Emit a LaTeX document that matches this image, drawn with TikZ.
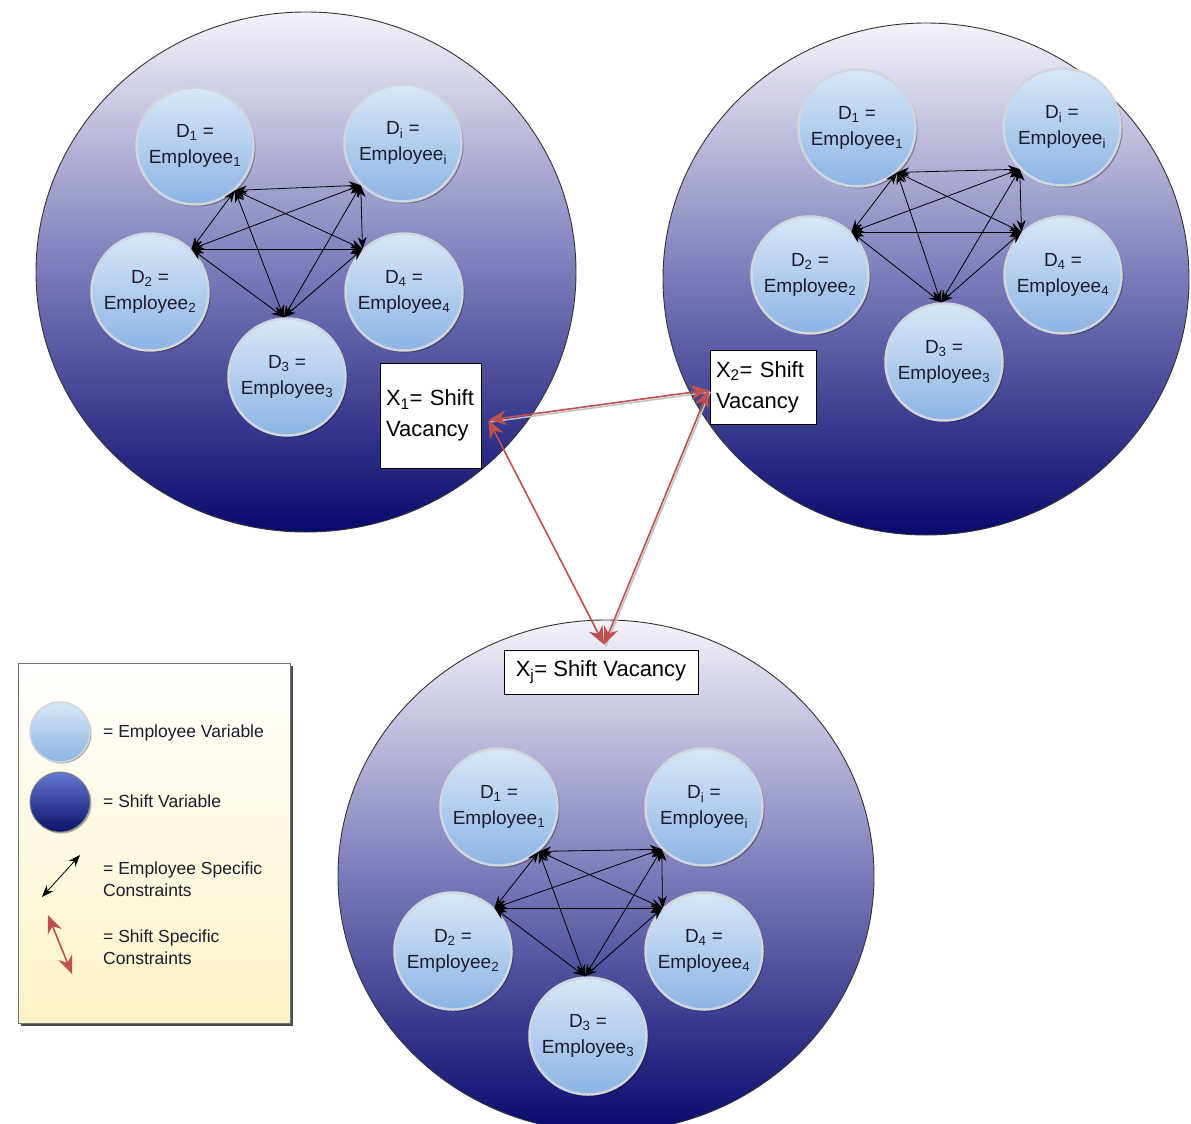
\documentclass[tikz,border=0pt]{standalone}
\usepackage{fontspec}
\setmainfont{Liberation Sans}
\usetikzlibrary{shapes.geometric,arrows.meta,shadows}
\definecolor{bigtop}{RGB}{244,243,249}
\definecolor{bigmid}{RGB}{122,122,186}
\definecolor{bigbot}{RGB}{8,10,108}
\definecolor{emptop}{RGB}{216,231,249}
\definecolor{empbot}{RGB}{140,180,228}
\definecolor{emprim}{RGB}{208,213,222}
\definecolor{txtc}{RGB}{28,28,45}
\definecolor{shiftred}{RGB}{192,80,77}
\definecolor{legtop}{RGB}{255,255,254}
\definecolor{legbot}{RGB}{253,242,198}
\definecolor{darktop}{RGB}{100,120,208}
\definecolor{darkbot}{RGB}{10,18,105}
\begin{document}
\begin{tikzpicture}[x=1pt,y=-1pt,
  bigvar/.style={ellipse, draw=black!80, line width=0.9pt, inner sep=0pt,
    top color=bigtop, bottom color=bigbot, middle color=bigmid},
  empvar/.style={circle, draw=emprim, line width=2.5pt, inner sep=0pt,
    minimum size=117pt, top color=emptop, bottom color=empbot,
    text=txtc, align=center, font=\fontsize{19}{26}\selectfont,
    drop shadow={shadow xshift=2pt, shadow yshift=-2pt, opacity=0.3, fill=black}},
  emparrow/.style={{Stealth[length=12pt,width=9pt]}-{Stealth[length=12pt,width=9pt]},
    line width=0.8pt, black},
  shiftbox/.style={rectangle, draw=black, line width=0.9pt, fill=white,
    font=\fontsize{22}{31}\selectfont, align=left, inner xsep=6pt, inner ysep=0pt},
  shiftarrow/.style={{Stealth[length=18pt,width=15pt]}-{Stealth[length=18pt,width=15pt]},
    line width=1.6pt, shiftred},
  shiftshadow/.style={line width=1.5pt, black!25,
    transform canvas={xshift=1.5pt,yshift=-2pt}},
  legendbox/.style={rectangle, draw=black!55, line width=1pt,
    top color=legtop, bottom color=legbot, inner sep=0pt,
    drop shadow={shadow xshift=3pt, shadow yshift=-3pt, opacity=0.7, fill=black}},
  legtext/.style={anchor=west, inner sep=0pt, text=txtc, align=left,
    font=\fontsize{17.5}{22.5}\selectfont},
  legemp/.style={circle, draw=emprim, line width=1.5pt, inner sep=0pt,
    minimum size=60pt, top color=emptop, bottom color=empbot,
    drop shadow={shadow xshift=1.5pt, shadow yshift=-1.5pt, opacity=0.3, fill=black}},
  legshift/.style={circle, draw=black!50, line width=0.8pt, inner sep=0pt,
    minimum size=60pt, top color=darktop, bottom color=darkbot,
    drop shadow={shadow xshift=1.5pt, shadow yshift=-1.5pt, opacity=0.3, fill=black}}
]
\useasboundingbox (0,0) rectangle (1191,1124);
\fill[white] (0,0) rectangle (1191,1124);

% big shift variable ellipses
\node[bigvar, minimum width=540pt, minimum height=520pt] (big1) at (306,272) {};
\node[bigvar, minimum width=526pt, minimum height=512pt] (big2) at (926,279) {};
\node[bigvar, minimum width=536pt, minimum height=512pt] (big3) at (606,876) {};

% employee variables, group a
\node[empvar] (aD1) at (195,146) {D\textsubscript{1} =\\Employee\textsubscript{1}};
\node[empvar] (aDi) at (403,143) {D\textsubscript{i} =\\Employee\textsubscript{i}};
\node[empvar] (aD2) at (150,292) {D\textsubscript{2} =\\Employee\textsubscript{2}};
\node[empvar] (aD4) at (404,292) {D\textsubscript{4} =\\Employee\textsubscript{4}};
\node[empvar] (aD3) at (287,377) {D\textsubscript{3} =\\Employee\textsubscript{3}};
% group b
\node[empvar] (bD1) at (857,128) {D\textsubscript{1} =\\Employee\textsubscript{1}};
\node[empvar] (bDi) at (1062,127) {D\textsubscript{i} =\\Employee\textsubscript{i}};
\node[empvar] (bD2) at (810,275) {D\textsubscript{2} =\\Employee\textsubscript{2}};
\node[empvar] (bD4) at (1063,275) {D\textsubscript{4} =\\Employee\textsubscript{4}};
\node[empvar] (bD3) at (944,362) {D\textsubscript{3} =\\Employee\textsubscript{3}};
% group c
\node[empvar] (cD1) at (499,807) {D\textsubscript{1} =\\Employee\textsubscript{1}};
\node[empvar] (cDi) at (704,807) {D\textsubscript{i} =\\Employee\textsubscript{i}};
\node[empvar] (cD2) at (453,951) {D\textsubscript{2} =\\Employee\textsubscript{2}};
\node[empvar] (cD4) at (704,951) {D\textsubscript{4} =\\Employee\textsubscript{4}};
\node[empvar] (cD3) at (588,1036) {D\textsubscript{3} =\\Employee\textsubscript{3}};

% employee specific constraints
\foreach \g in {a,b,c}{
  \coordinate (\g P1) at (\g D1.-48);
  \coordinate (\g Pi) at (\g Di.-135);
  \coordinate (\g P2) at (\g D2.46);
  \coordinate (\g P4) at (\g D4.134);
  \coordinate (\g P3) at (\g D3.93);
}
\foreach \g in {a,b,c}{
  \foreach \s/\t in {1/i,1/2,1/4,1/3,i/2,i/4,i/3,2/4,2/3,4/3}{
    \draw[emparrow] (\g P\s) -- (\g P\t);
  }
}

% shift vacancy boxes
\node[shiftbox, text width=89pt, minimum height=105pt] (x1) at (430.5,415.5)
  {X\textsubscript{1}= Shift\\Vacancy};
\node[shiftbox, text width=94pt, minimum height=74pt] (x2) at (763,387)
  {X\textsubscript{2}= Shift\\Vacancy};
\node[shiftbox, minimum width=194pt, minimum height=44pt, align=center] (xj) at (601,672)
  {X\textsubscript{j}= Shift Vacancy};

% shift specific constraints
\coordinate (r1) at ([xshift=7pt,yshift=-4.5pt]x1.east);
\coordinate (r2) at ([xshift=-1pt,yshift=-3pt]x2.west);
\coordinate (rj) at ([xshift=3pt,yshift=5pt]xj.north);
\draw[shiftshadow] (r1) -- (r2);
\draw[shiftshadow] (r2) -- (rj);
\draw[shiftarrow] (r1) -- (r2);
\draw[shiftarrow] (r1) -- (rj);
\draw[shiftarrow] (r2) -- (rj);

% legend
\node[legendbox, minimum width=272pt, minimum height=360pt] (legend) at (154,843) {};
\node[legemp] (legE) at (60,732) {};
\node[legshift] (legS) at (60,802) {};
\node[legtext] (legT1) at (103,733) {= Employee Variable};
\node[legtext] (legT2) at (103,801) {= Shift Variable};
\node[legtext] (legT3) at (103,879) {= Employee Specific\\Constraints};
\node[legtext] (legT4) at (103,947) {= Shift Specific\\Constraints};
\coordinate (lb1) at (42,897);
\coordinate (lb2) at (80,855);
\coordinate (lr1) at (48,915);
\coordinate (lr2) at (72,974);
\draw[emparrow] (lb1) -- (lb2);
\draw[shiftarrow] (lr1) -- (lr2);
\end{tikzpicture}
\end{document}
